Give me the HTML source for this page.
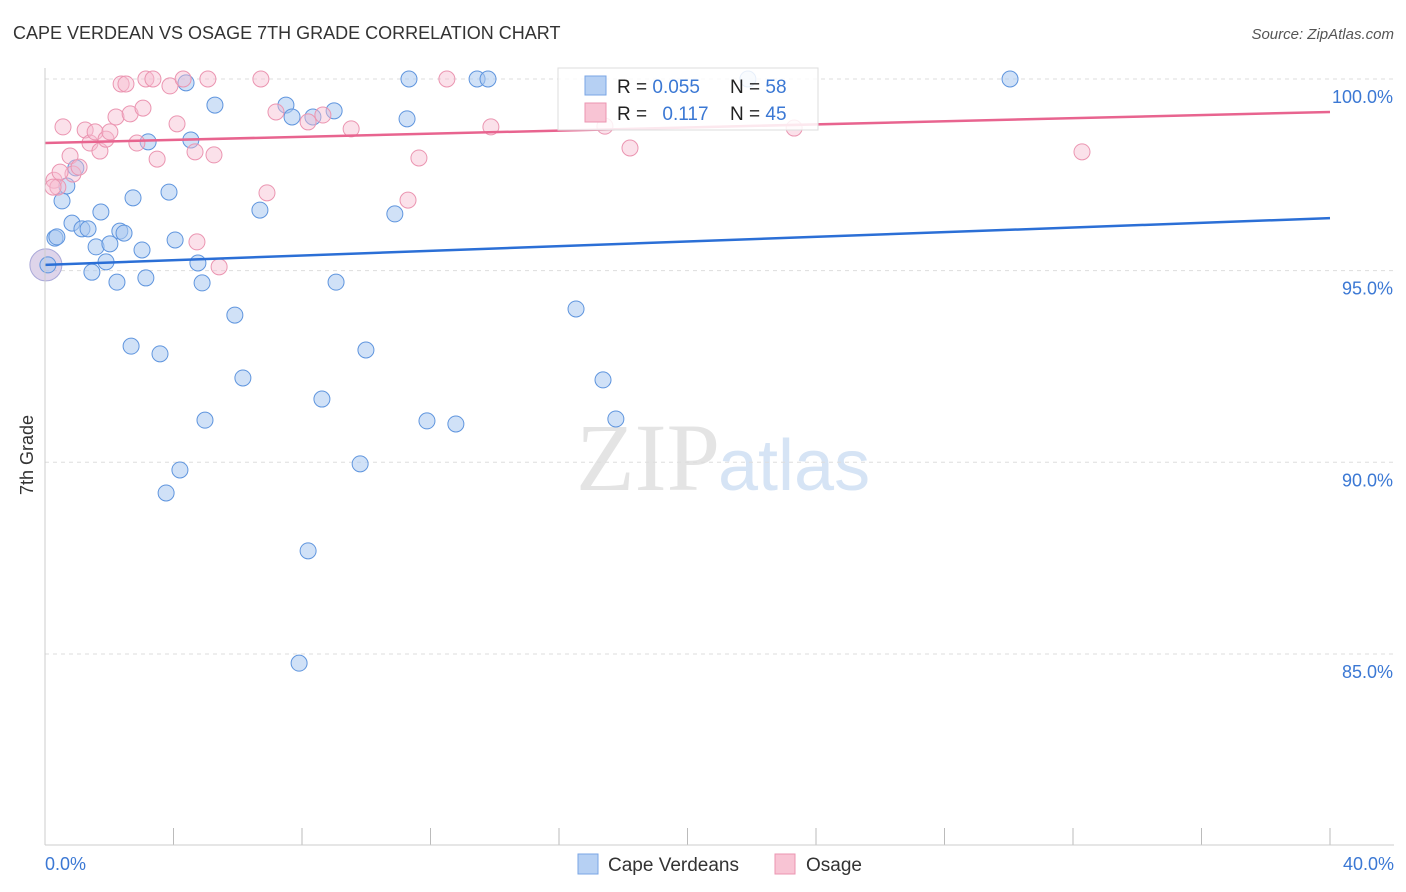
<!DOCTYPE html>
<html><head><meta charset="utf-8"><style>
body{margin:0;background:#fff;font-family:"Liberation Sans",sans-serif;}
#wrap{position:relative;width:1406px;height:892px;overflow:hidden;}
</style></head><body>
<div id="wrap">
<svg id="svg" width="1406" height="892" xmlns="http://www.w3.org/2000/svg">
<text x="13" y="39" font-size="18" fill="#333">CAPE VERDEAN VS OSAGE 7TH GRADE CORRELATION CHART</text>
<text x="1394" y="39" font-size="15" fill="#555" font-style="italic" text-anchor="end">Source: ZipAtlas.com</text>
<text x="33" y="455" font-size="18" fill="#333" transform="rotate(-90 33 455)" text-anchor="middle">7th Grade</text>
<text x="720" y="490" font-size="96" fill="#e4e4e4" text-anchor="end" font-family="Liberation Serif,serif">ZIP</text>
<text x="718" y="490" font-size="72" fill="#d6e4f5">atlas</text>
<g id="grid"></g><g id="pts"></g><g id="lines"></g>
<line x1="45" y1="68" x2="45" y2="845" stroke="#ccc"/>
<line x1="45" y1="845" x2="1394" y2="845" stroke="#ccc"/>
<text x="45" y="870" font-size="18" fill="#3b78d4">0.0%</text>
<text x="1394" y="870" font-size="18" fill="#3b78d4" text-anchor="end">40.0%</text>
<g>
<rect x="558" y="68" width="260" height="62" fill="#fff" fill-opacity="0.85" stroke="#ddd"/>
<rect x="585" y="76" width="21" height="19" fill="#b6d0f3" stroke="#7aa6e4"/>
<rect x="585" y="103" width="21" height="19" fill="#f8c4d4" stroke="#eb95b1"/>
<text x="617" y="93" font-size="19" fill="#222">R = <tspan fill="#3b78d4">0.055</tspan></text>
<text x="730" y="93" font-size="19" fill="#222">N = <tspan fill="#3b78d4">58</tspan></text>
<text x="617" y="120" font-size="19" fill="#222">R = <tspan fill="#3b78d4" dx="10">0.117</tspan></text>
<text x="730" y="120" font-size="19" fill="#222">N = <tspan fill="#3b78d4">45</tspan></text>
</g>
<g>
<rect x="578" y="854" width="20" height="20" fill="#b6d0f3" stroke="#7aa6e4"/>
<text x="608" y="871" font-size="19" fill="#333">Cape Verdeans</text>
<rect x="775" y="854" width="20" height="20" fill="#f8c4d4" stroke="#eb95b1"/>
<text x="806" y="871" font-size="19" fill="#333">Osage</text>
</g>
</svg></div>
<script>
const yTicks=[100,95,90,85];
const xTickCount=[0,4,8,12,16,20,24,28,32,36,40];
const bluePx=[[48,265],[55,238],[57,237],[62,201],[67,186],[72,223],[76,168],[82,229],[88,229],[92,272],[96,247],[101,212],[106,262],[110,244],[117,282],[120,231],[124,233],[131,346],[133,198],[142,250],[146,278],[148,142],[160,354],[166,493],[169,192],[175,240],[180,470],[186,83],[191,140],[198,263],[202,283],[205,420],[215,105],[235,315],[243,378],[260,210],[286,105],[292,117],[299,663],[308,551],[313,117],[322,399],[334,111],[336,282],[360,464],[366,350],[395,214],[407,119],[409,79],[427,421],[456,424],[477,79],[488,79],[576,309],[603,380],[616,419],[748,79],[1010,79]];
const pinkPx=[[54,180],[58,187],[63,127],[70,156],[73,174],[79,167],[85,130],[90,143],[95,132],[100,151],[106,139],[110,132],[116,117],[121,84],[126,84],[130,114],[137,143],[143,108],[146,79],[153,79],[157,159],[170,86],[177,124],[183,79],[195,152],[197,242],[208,79],[214,155],[219,267],[261,79],[267,193],[276,112],[308,122],[323,115],[351,129],[408,200],[419,158],[447,79],[491,127],[605,126],[630,148],[794,128],[1082,152],[53,187],[60,172]];
// convert picture readings into data values
const blueX=bluePx.map(p=>+((p[0]-45)/1285*40).toFixed(2));
const blueY=bluePx.map(p=>+(100-(p[1]-79)/38.33).toFixed(2));
const pinkX=pinkPx.map(p=>+((p[0]-45)/1285*40).toFixed(2));
const pinkY=pinkPx.map(p=>+(100-(p[1]-79)/38.33).toFixed(2));
const blueFit=[95.15,96.37];
const pinkFit=[98.33,99.14];
const sx=v=>45+v/40*1285, sy=v=>79+(100-v)*38.33;
const NS="http://www.w3.org/2000/svg";
function mk(t,a,parent){const e=document.createElementNS(NS,t);for(const k in a)e.setAttribute(k,a[k]);parent.appendChild(e);return e;}
const grid=document.getElementById('grid'),svg=document.getElementById('svg');
yTicks.forEach(v=>{
 const l=mk('line',{x1:45,x2:1394,y1:sy(v),y2:sy(v),stroke:'#ddd','stroke-dasharray':'4,4'},grid);
 
 
 const t=mk('text',{x:1393,y:sy(v)+24,'font-size':18,fill:'#3b78d4','text-anchor':'end'},svg);
 t.textContent=v.toFixed(1)+'%';
 
 
});
xTickCount.forEach(v=>{
 const l=mk('line',{x1:sx(v),x2:sx(v),y1:828,y2:845,stroke:'#bbb'},grid);
 
 
});
const pts=document.getElementById('pts');
const big=mk('circle',{cx:sx(blueX[0])-2,cy:sy(blueY[0]),r:16,fill:'#c8b8dc','fill-opacity':0.6,stroke:'#a9a8d8'},pts);


blueX.forEach((x,i)=>{const c=mk('circle',{cx:sx(x),cy:sy(blueY[i]),r:8,fill:'#a9c8f0','fill-opacity':0.55,stroke:'#5f95de','stroke-width':1},pts);
 
 });
pinkX.forEach((x,i)=>{const c=mk('circle',{cx:sx(x),cy:sy(pinkY[i]),r:8,fill:'#f6bcd0','fill-opacity':0.45,stroke:'#eb95b1','stroke-width':1},pts);
 
 });
const lines=document.getElementById('lines');
const bl=mk('line',{x1:sx(0),y1:sy(blueFit[0]),x2:sx(40),y2:sy(blueFit[1]),stroke:'#2b6fd6','stroke-width':2.5},lines);


const pl=mk('line',{x1:sx(0),y1:sy(pinkFit[0]),x2:sx(40),y2:sy(pinkFit[1]),stroke:'#e8648f','stroke-width':2.5},lines);


</script>
</body></html>
